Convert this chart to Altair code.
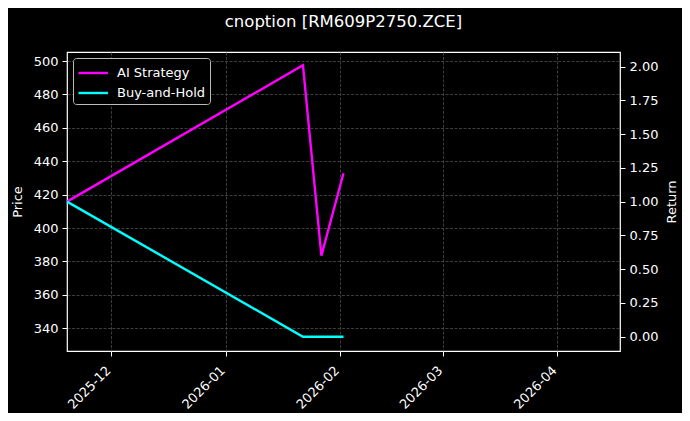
# %% Imports

import altair as alt
import pandas as pd

# %% Data

dates = ["2025-11-19", "2026-01-22", "2026-01-27", "2026-02-02"]
ai_strategy = [1.0, 2.01, 0.6, 1.21]
buy_and_hold = [1.0, 0.0, 0.0, 0.0]
price = [416.7, 498.0, 383.2, 433.3]

month_ticks = ["2025-12-01", "2026-01-01", "2026-02-01", "2026-03-01", "2026-04-01"]

returns = pd.DataFrame(
    {
        "date": dates * 2,
        "value": ai_strategy + buy_and_hold,
        "series": ["AI Strategy"] * 4 + ["Buy-and-Hold"] * 4,
    }
)
prices = pd.DataFrame({"date": dates, "price": price})


def utc_day(s):
    y, m, d = (int(p) for p in s.split("-"))
    return alt.DateTime(year=y, month=m, date=d, utc=True)


FONT = "DejaVu Sans"
GRID = "#4d4d4d"

x = alt.X(
    "date:T",
    scale=alt.Scale(type="utc", domain=[utc_day("2025-11-19"), utc_day("2026-04-18")]),
    axis=alt.Axis(
        title=None,
        values=[utc_day(t) for t in month_ticks],
        labelExpr="utcFormat(datum.value, '%Y-%m')",
        labelAngle=315,
        labelAlign="right",
        labelBaseline="middle",
        labelPadding=12,
        labelOffset=-3,
        grid=True,
    ),
)

# %% Left axis (price)

price_layer = (
    alt.Chart(prices)
    .mark_line(strokeOpacity=0)
    .encode(
        x=x,
        y=alt.Y(
            "price:Q",
            scale=alt.Scale(domain=[326.4, 505.4], nice=False, zero=False),
            axis=alt.Axis(
                title="Price",
                values=[340, 360, 380, 400, 420, 440, 460, 480, 500],
                orient="left",
                titlePadding=9,
            ),
        ),
    )
)

# %% Right axis (return)

return_layer = (
    alt.Chart(returns)
    .mark_line(strokeWidth=2.4)
    .encode(
        x=x,
        y=alt.Y(
            "value:Q",
            scale=alt.Scale(domain=[-0.106, 2.108], nice=False, zero=False),
            axis=alt.Axis(
                title="Return",
                orient="right",
                values=[0, 0.25, 0.5, 0.75, 1.0, 1.25, 1.5, 1.75, 2.0],
                format=".2f",
                titleAngle=270,
                titlePadding=21,
            ),
        ),
        color=alt.Color(
            "series:N",
            scale=alt.Scale(domain=["AI Strategy", "Buy-and-Hold"], range=["#ff00ff", "#00ffff"]),
            legend=alt.Legend(
                title=None,
                orient="top-left",
                offset=6,
                symbolType="M-1,0L2.1,0",
                symbolSize=361,
                symbolStrokeWidth=2.4,
                labelFontSize=13,
                labelColor="white",
                labelFont=FONT,
                labelOffset=18,
                fillColor="#000000",
                strokeColor="#bbbbbb",
                cornerRadius=3,
                padding=4,
                rowPadding=2,
            ),
        ),
    )
)

chart = (
    alt.layer(price_layer, return_layer)
    .resolve_scale(y="independent")
    .properties(
        width=553,
        height=299,
        autosize=alt.AutoSizeParams(type="none"),
        padding={"left": 59, "top": 44, "right": 62, "bottom": 62},
        background="#000000",
        title=alt.Title(
            "cnoption [RM609P2750.ZCE]",
            color="white",
            font=FONT,
            fontSize=16.5,
            fontWeight="normal",
            offset=22,
        ),
    )
    .configure_view(stroke="white", strokeWidth=1.2, fill="#000000")
    .configure_axis(
        labelColor="white",
        labelFont=FONT,
        labelFontSize=13,
        titleColor="white",
        titleFont=FONT,
        titleFontSize=13,
        titleFontWeight="normal",
        tickColor="white",
        tickSize=5,
        labelPadding=4,
        domain=False,
        gridColor=GRID,
        gridDash=[3, 1.5],
        gridWidth=0.8,
    )
)

chart.save("out.html", embed_options={"renderer": "svg", "actions": False})
